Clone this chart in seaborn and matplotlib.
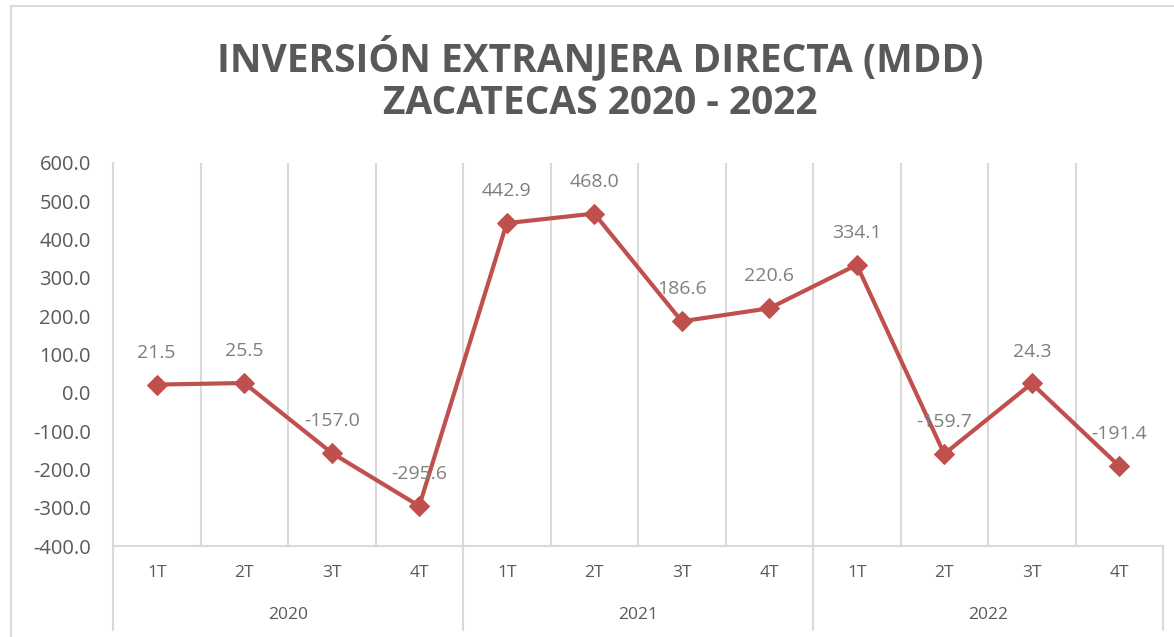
import numpy as np
import pandas as pd
import matplotlib.pyplot as plt
import matplotlib.transforms as mtransforms
from matplotlib.patches import Rectangle
import seaborn as sns

years = ['2020', '2021', '2022']
quarters = ['1T', '2T', '3T', '4T']
values = [21.5, 25.5, -157.0, -295.6,
          442.9, 468.0, 186.6, 220.6,
          334.1, -159.7, 24.3, -191.4]

df = pd.DataFrame({
    'pos': np.arange(len(values)),
    'ied': values,
})

sns.set_theme(style='white')
plt.rcParams['font.family'] = ['Open Sans', 'DejaVu Sans']

W, H = 1174, 637
fig = plt.figure(figsize=(W / 100, H / 100), dpi=100)
ax = fig.add_axes([113 / W, 1 - 546 / H, (1163 - 113) / W, (546 - 163) / H])

red = '#C0504D'
grid_c = '#D9D9D9'
txt_c = '#595959'

sns.lineplot(data=df, x='pos', y='ied', ax=ax, color=red, linewidth=3,
             marker='D', markersize=10, markeredgecolor=red, zorder=3)

ax.set_xlim(-0.5, len(values) - 0.5)
ax.set_ylim(-400, 600)
ax.set_yticks(np.arange(-400, 601, 100))
ax.set_yticklabels([f'{v:.1f}' for v in np.arange(-400, 601, 100)])
ax.set_xticks(df.pos)
ax.set_xticklabels([q for _ in years for q in quarters])
ax.set_xlabel('')
ax.set_ylabel('')

ax.tick_params(axis='y', length=0, pad=16, labelsize=14.5, labelcolor=txt_c)
ax.tick_params(axis='x', length=0, pad=14, labelsize=12.5, labelcolor=txt_c)

for s in ['top', 'right']:
    ax.spines[s].set_visible(False)
for s in ['left', 'bottom']:
    ax.spines[s].set_color(grid_c)
    ax.spines[s].set_linewidth(1.5)

# vertical gridlines between categories
for k in range(1, len(values)):
    ax.axvline(k - 0.5, color=grid_c, lw=1.5, zorder=1)

# year separators and labels below the axis
trans = mtransforms.blended_transform_factory(ax.transData, ax.transAxes)
bottom = -(630 - 546) / (546 - 163)
for k in range(len(years) + 1):
    ax.plot([k * 4 - 0.5] * 2, [0, bottom], transform=trans, color=grid_c,
            lw=1.5, clip_on=False)
for i, y in enumerate(years):
    ax.text(i * 4 + 1.5, -(615 - 546) / (546 - 163), y, transform=trans,
            ha='center', va='center', fontsize=12.5, color=txt_c)

# data labels
for x, v in zip(df.pos, df.ied):
    ax.annotate(f'{v:.1f}', xy=(x, v), xytext=(0, 23), textcoords='offset points',
                ha='center', va='center', fontsize=14, color='#7F7F7F', zorder=4)

fig.text(0.511, 1 - 57 / H, 'INVERSIÓN EXTRANJERA DIRECTA (MDD)', ha='center', va='center',
         fontsize=28, fontweight='bold', color=txt_c)
fig.text(0.511, 1 - 104 / H, 'ZACATECAS 2020 - 2022', ha='center', va='center',
         fontsize=28, fontweight='bold', color=txt_c)

# outer chart frame
fig.patches.append(Rectangle((11 / W, -0.1), 1.2, 1 - 6 / H + 0.1, transform=fig.transFigure,
                             fill=False, edgecolor=grid_c, lw=1.5))

fig.savefig('out.png', dpi=100)
